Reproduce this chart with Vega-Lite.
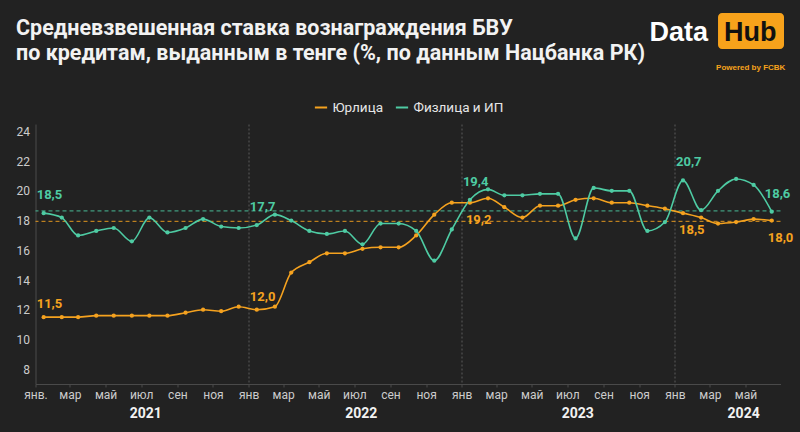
{
  "$schema": "https://vega.github.io/schema/vega-lite/v6.json",
  "width": 745,
  "height": 260,
  "autosize": "none",
  "padding": {"left": 35.5, "right": 19.5, "top": 124, "bottom": 48},
  "background": "#222222",
  "title": {
    "text": ["Средневзвешенная ставка вознаграждения БВУ", "по кредитам, выданным в тенге (%, по данным Нацбанка РК)"],
    "anchor": "start",
    "frame": "bounds",
    "font": "Roboto",
    "fontSize": 21.5,
    "fontWeight": "bold",
    "color": "#f2f2f2",
    "lineHeight": 25,
    "dx": 0,
    "offset": -51
  },
  "config": {
    "view": {"stroke": null},
    "locale": {"number": {"decimal": ",", "thousands": " ", "grouping": [3], "currency": ["", ""]}},
    "axis": {"labelFont": "Roboto", "titleFont": "Roboto"},
    "axisY": {"labelOverlap": false, "grid": false, "ticks": false, "labelColor": "#cccccc", "labelFontSize": 12, "labelPadding": 6, "domainColor": "#4a4a4a", "title": null},
    "legend": {"labelFont": "Roboto"}
  },
  "data": {
    "values": [
      {"date": "2021-01-15", "series": "Юрлица", "value": 11.5},
      {"date": "2021-02-15", "series": "Юрлица", "value": 11.5},
      {"date": "2021-03-15", "series": "Юрлица", "value": 11.5},
      {"date": "2021-04-15", "series": "Юрлица", "value": 11.6},
      {"date": "2021-05-15", "series": "Юрлица", "value": 11.6},
      {"date": "2021-06-15", "series": "Юрлица", "value": 11.6},
      {"date": "2021-07-15", "series": "Юрлица", "value": 11.6},
      {"date": "2021-08-15", "series": "Юрлица", "value": 11.6},
      {"date": "2021-09-15", "series": "Юрлица", "value": 11.8},
      {"date": "2021-10-15", "series": "Юрлица", "value": 12.0},
      {"date": "2021-11-15", "series": "Юрлица", "value": 11.9},
      {"date": "2021-12-15", "series": "Юрлица", "value": 12.2},
      {"date": "2022-01-15", "series": "Юрлица", "value": 12.0},
      {"date": "2022-02-15", "series": "Юрлица", "value": 12.2},
      {"date": "2022-03-15", "series": "Юрлица", "value": 14.5},
      {"date": "2022-04-15", "series": "Юрлица", "value": 15.2},
      {"date": "2022-05-15", "series": "Юрлица", "value": 15.8},
      {"date": "2022-06-15", "series": "Юрлица", "value": 15.8},
      {"date": "2022-07-15", "series": "Юрлица", "value": 16.1},
      {"date": "2022-08-15", "series": "Юрлица", "value": 16.2},
      {"date": "2022-09-15", "series": "Юрлица", "value": 16.2},
      {"date": "2022-10-15", "series": "Юрлица", "value": 17.0},
      {"date": "2022-11-15", "series": "Юрлица", "value": 18.4},
      {"date": "2022-12-15", "series": "Юрлица", "value": 19.2},
      {"date": "2023-01-15", "series": "Юрлица", "value": 19.2},
      {"date": "2023-02-15", "series": "Юрлица", "value": 19.5},
      {"date": "2023-03-15", "series": "Юрлица", "value": 18.9},
      {"date": "2023-04-15", "series": "Юрлица", "value": 18.2},
      {"date": "2023-05-15", "series": "Юрлица", "value": 19.0},
      {"date": "2023-06-15", "series": "Юрлица", "value": 19.0},
      {"date": "2023-07-15", "series": "Юрлица", "value": 19.4},
      {"date": "2023-08-15", "series": "Юрлица", "value": 19.5},
      {"date": "2023-09-15", "series": "Юрлица", "value": 19.2},
      {"date": "2023-10-15", "series": "Юрлица", "value": 19.2},
      {"date": "2023-11-15", "series": "Юрлица", "value": 19.0},
      {"date": "2023-12-15", "series": "Юрлица", "value": 18.8},
      {"date": "2024-01-15", "series": "Юрлица", "value": 18.5},
      {"date": "2024-02-15", "series": "Юрлица", "value": 18.2},
      {"date": "2024-03-15", "series": "Юрлица", "value": 17.8},
      {"date": "2024-04-15", "series": "Юрлица", "value": 17.9},
      {"date": "2024-05-15", "series": "Юрлица", "value": 18.1},
      {"date": "2024-06-15", "series": "Юрлица", "value": 18.0},
      {"date": "2021-01-15", "series": "Физлица и ИП", "value": 18.5},
      {"date": "2021-02-15", "series": "Физлица и ИП", "value": 18.2},
      {"date": "2021-03-15", "series": "Физлица и ИП", "value": 17.0},
      {"date": "2021-04-15", "series": "Физлица и ИП", "value": 17.3},
      {"date": "2021-05-15", "series": "Физлица и ИП", "value": 17.5},
      {"date": "2021-06-15", "series": "Физлица и ИП", "value": 16.6},
      {"date": "2021-07-15", "series": "Физлица и ИП", "value": 18.2},
      {"date": "2021-08-15", "series": "Физлица и ИП", "value": 17.2},
      {"date": "2021-09-15", "series": "Физлица и ИП", "value": 17.5},
      {"date": "2021-10-15", "series": "Физлица и ИП", "value": 18.1},
      {"date": "2021-11-15", "series": "Физлица и ИП", "value": 17.6},
      {"date": "2021-12-15", "series": "Физлица и ИП", "value": 17.5},
      {"date": "2022-01-15", "series": "Физлица и ИП", "value": 17.7},
      {"date": "2022-02-15", "series": "Физлица и ИП", "value": 18.4},
      {"date": "2022-03-15", "series": "Физлица и ИП", "value": 18.0},
      {"date": "2022-04-15", "series": "Физлица и ИП", "value": 17.3},
      {"date": "2022-05-15", "series": "Физлица и ИП", "value": 17.1},
      {"date": "2022-06-15", "series": "Физлица и ИП", "value": 17.3},
      {"date": "2022-07-15", "series": "Физлица и ИП", "value": 16.4},
      {"date": "2022-08-15", "series": "Физлица и ИП", "value": 17.8},
      {"date": "2022-09-15", "series": "Физлица и ИП", "value": 17.8},
      {"date": "2022-10-15", "series": "Физлица и ИП", "value": 17.3},
      {"date": "2022-11-15", "series": "Физлица и ИП", "value": 15.3},
      {"date": "2022-12-15", "series": "Физлица и ИП", "value": 17.4},
      {"date": "2023-01-15", "series": "Физлица и ИП", "value": 19.4},
      {"date": "2023-02-15", "series": "Физлица и ИП", "value": 20.1},
      {"date": "2023-03-15", "series": "Физлица и ИП", "value": 19.7},
      {"date": "2023-04-15", "series": "Физлица и ИП", "value": 19.7},
      {"date": "2023-05-15", "series": "Физлица и ИП", "value": 19.8},
      {"date": "2023-06-15", "series": "Физлица и ИП", "value": 19.8},
      {"date": "2023-07-15", "series": "Физлица и ИП", "value": 16.8},
      {"date": "2023-08-15", "series": "Физлица и ИП", "value": 20.2},
      {"date": "2023-09-15", "series": "Физлица и ИП", "value": 20.0},
      {"date": "2023-10-15", "series": "Физлица и ИП", "value": 20.0},
      {"date": "2023-11-15", "series": "Физлица и ИП", "value": 17.3},
      {"date": "2023-12-15", "series": "Физлица и ИП", "value": 17.9},
      {"date": "2024-01-15", "series": "Физлица и ИП", "value": 20.7},
      {"date": "2024-02-15", "series": "Физлица и ИП", "value": 18.7},
      {"date": "2024-03-15", "series": "Физлица и ИП", "value": 20.0},
      {"date": "2024-04-15", "series": "Физлица и ИП", "value": 20.8},
      {"date": "2024-05-15", "series": "Физлица и ИП", "value": 20.4},
      {"date": "2024-06-15", "series": "Физлица и ИП", "value": 18.6}
    ],
    "format": {"parse": {"date": "date"}}
  },
  "resolve": {"axis": {"x": "independent"}},
  "layer": [
    {
      "data": {"values": [{}]},
      "mark": {"type": "rule", "color": "#4ecba3", "strokeDash": [4, 3], "strokeWidth": 1, "opacity": 0.9},
      "encoding": {"y": {"datum": 18.65, "type": "quantitative", "axis": {"values": [8, 10, 12, 14, 16, 18, 20, 22, 24], "labelOverlap": false}}}
    },
    {
      "data": {"values": [{}]},
      "mark": {"type": "rule", "color": "#f5a21f", "strokeDash": [4, 3], "strokeWidth": 1, "opacity": 0.9},
      "encoding": {"y": {"datum": 17.95, "type": "quantitative", "axis": {"values": [8, 10, 12, 14, 16, 18, 20, 22, 24], "labelOverlap": false}}}
    },
    {
      "mark": {"type": "line", "interpolate": "monotone", "strokeWidth": 1.6},
      "encoding": {
        "x": {
          "field": "date", "type": "temporal",
          "scale": {"domain": [{"year": 2021, "month": 1, "date": 1}, {"year": 2024, "month": 6, "date": 30}]},
          "axis": {
            "title": null,
            "orient": "bottom",
            "tickCount": {"interval": "month", "step": 2},
            "labelExpr": "(year(datum.value) == 2021 && month(datum.value) == 0) ? 'янв.' : ['янв','фев','мар','апр','май','июн','июл','авг','сен','окт','ноя','дек'][month(datum.value)]",
            "labelAngle": 0,
            "labelColor": "#cccccc",
            "labelFontSize": 12,
            "labelPadding": 2,
            "labelOverlap": false,
            "labelFlush": false,
            "domainColor": "#4a4a4a",
            "tickColor": "#4a4a4a",
            "tickSize": 3,
            "grid": true,
            "gridColor": {"condition": {"test": "month(datum.value) == 0 && year(datum.value) > 2021", "value": "#5a5a5a"}, "value": "transparent"},
            "gridDash": [2, 2],
            "gridWidth": 1
          }
        },
        "y": {
          "field": "value", "type": "quantitative",
          "scale": {"domain": [7, 24.5], "nice": false, "zero": false},
          "axis": {"values": [8, 10, 12, 14, 16, 18, 20, 22, 24], "labelOverlap": false}
        },
        "color": {
          "field": "series", "type": "nominal",
          "scale": {"domain": ["Юрлица", "Физлица и ИП"], "range": ["#f5a21f", "#4ecba3"]},
          "legend": {
            "title": null,
            "orient": "none",
            "legendX": 278,
            "legendY": -24,
            "direction": "horizontal",
            "symbolType": "stroke",
            "symbolStrokeWidth": 2,
            "symbolSize": 150,
            "labelColor": "#e6e6e6",
            "labelFontSize": 13.5,
            "columnPadding": 8,
            "symbolOffset": 0
          }
        }
      }
    },
    {
      "mark": {"type": "point", "filled": true, "size": 18, "opacity": 1},
      "encoding": {
        "x": {
          "field": "date", "type": "temporal",
          "axis": {
            "title": null,
            "orient": "bottom",
            "values": [{"year": 2021, "month": 7, "date": 8}, {"year": 2022, "month": 7, "date": 12}, {"year": 2023, "month": 7, "date": 18}, {"year": 2024, "month": 4, "date": 27}],
            "labelExpr": "timeFormat(datum.value, '%Y')",
            "labelColor": "#f2f2f2",
            "labelFontSize": 14,
            "labelFontWeight": "bold",
            "labelAngle": 0,
            "labelFlush": false,
            "labelOverlap": false,
            "labelPadding": 2,
            "domain": false,
            "ticks": false,
            "tickSize": 0,
            "grid": false,
            "offset": 20
          }
        },
        "y": {"field": "value", "type": "quantitative", "axis": {"values": [8, 10, 12, 14, 16, 18, 20, 22, 24], "labelOverlap": false}},
        "color": {"field": "series", "type": "nominal"}
      }
    },
    {
      "transform": [{"filter": "datum.series == 'Физлица и ИП' && (month(datum.date) == 0 || (year(datum.date) == 2024 && month(datum.date) == 5))"}],
      "mark": {"type": "text", "align": "left", "baseline": "middle", "dx": -7, "dy": -18, "font": "Roboto", "fontSize": 13, "fontWeight": "bold", "color": "#4ecba3"},
      "encoding": {
        "x": {"field": "date", "type": "temporal", "axis": null},
        "y": {"field": "value", "type": "quantitative", "axis": {"values": [8, 10, 12, 14, 16, 18, 20, 22, 24], "labelOverlap": false}},
        "text": {"field": "value", "type": "quantitative", "format": ".1f"}
      }
    },
    {
      "transform": [{"filter": "datum.series == 'Юрлица' && month(datum.date) == 0 && year(datum.date) <= 2022"}],
      "mark": {"type": "text", "align": "left", "baseline": "middle", "dx": -7, "dy": -13, "font": "Roboto", "fontSize": 13, "fontWeight": "bold", "color": "#f5a21f"},
      "encoding": {
        "x": {"field": "date", "type": "temporal", "axis": null},
        "y": {"field": "value", "type": "quantitative", "axis": {"values": [8, 10, 12, 14, 16, 18, 20, 22, 24], "labelOverlap": false}},
        "text": {"field": "value", "type": "quantitative", "format": ".1f"}
      }
    },
    {
      "transform": [{"filter": "datum.series == 'Юрлица' && ((month(datum.date) == 0 && year(datum.date) >= 2023) || (year(datum.date) == 2024 && month(datum.date) == 5))"}],
      "mark": {"type": "text", "align": "left", "baseline": "middle", "dx": -4, "dy": 17, "font": "Roboto", "fontSize": 13, "fontWeight": "bold", "color": "#f5a21f"},
      "encoding": {
        "x": {"field": "date", "type": "temporal", "axis": null},
        "y": {"field": "value", "type": "quantitative", "axis": {"values": [8, 10, 12, 14, 16, 18, 20, 22, 24], "labelOverlap": false}},
        "text": {"field": "value", "type": "quantitative", "format": ".1f"}
      }
    },
    {
      "data": {"values": [{}]},
      "mark": {"type": "rect", "color": "#f7a21b", "cornerRadius": 4},
      "encoding": {
        "x": {"datum": {"year": 2024, "month": 3, "date": 15}, "type": "temporal", "axis": null},
        "x2": {"datum": {"year": 2024, "month": 7, "date": 6}},
        "y": {"datum": 31.97, "type": "quantitative", "axis": {"values": [8, 10, 12, 14, 16, 18, 20, 22, 24], "labelOverlap": false}},
        "y2": {"datum": 29.55}
      }
    },
    {
      "data": {"values": [{"t": "Hub"}]},
      "mark": {"type": "text", "align": "center", "baseline": "alphabetic", "font": "Liberation Sans", "fontSize": 27, "fontWeight": "bold", "color": "#111111"},
      "encoding": {
        "x": {"datum": {"year": 2024, "month": 5, "date": 9}, "type": "temporal", "axis": null},
        "y": {"datum": 30.09, "type": "quantitative", "axis": {"values": [8, 10, 12, 14, 16, 18, 20, 22, 24], "labelOverlap": false}},
        "text": {"field": "t"}
      }
    },
    {
      "data": {"values": [{"t": "Data"}]},
      "mark": {"type": "text", "align": "right", "baseline": "alphabetic", "font": "Liberation Sans", "fontSize": 27, "fontWeight": "bold", "color": "#ffffff"},
      "encoding": {
        "x": {"datum": {"year": 2024, "month": 2, "date": 27}, "type": "temporal", "axis": null},
        "y": {"datum": 30.09, "type": "quantitative", "axis": {"values": [8, 10, 12, 14, 16, 18, 20, 22, 24], "labelOverlap": false}},
        "text": {"field": "t"}
      }
    },
    {
      "data": {"values": [{"t": "Powered by FCBK"}]},
      "mark": {"type": "text", "align": "center", "baseline": "middle", "font": "Liberation Sans", "fontSize": 8, "fontWeight": "bold", "color": "#f7a21b"},
      "encoding": {
        "x": {"datum": {"year": 2024, "month": 5, "date": 10}, "type": "temporal", "axis": null},
        "y": {"datum": 28.27, "type": "quantitative", "axis": {"values": [8, 10, 12, 14, 16, 18, 20, 22, 24], "labelOverlap": false}},
        "text": {"field": "t"}
      }
    }
  ]
}
